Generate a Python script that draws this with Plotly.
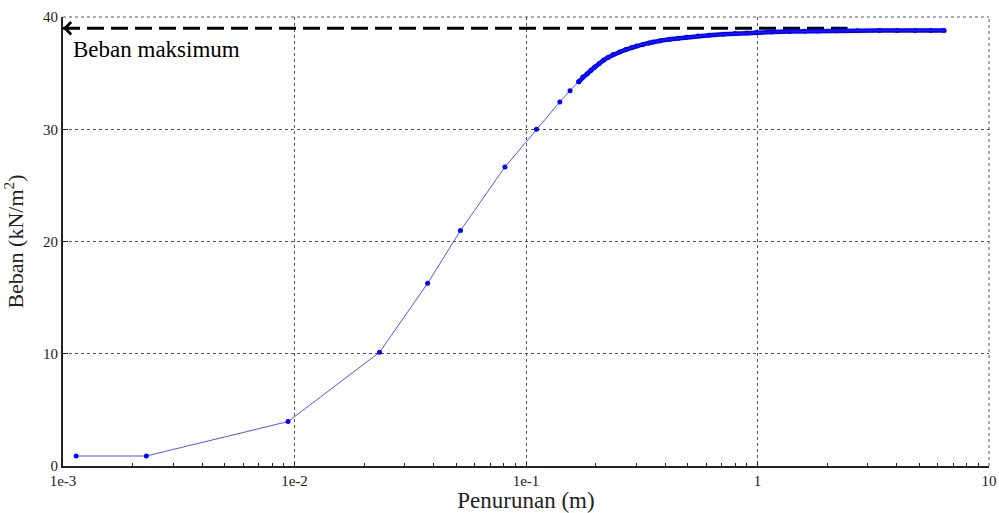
import numpy as np
import plotly.graph_objects as go

# Sparse measured points (settlement m, load kN/m2)
x_sparse = [0.00114, 0.00229, 0.00938, 0.0233, 0.0376, 0.0521, 0.0811, 0.111, 0.140, 0.155, 0.169]
y_sparse = [0.89, 0.89, 3.96, 10.13, 16.28, 20.97, 26.64, 30.0, 32.43, 33.44, 34.24]

# Dense part of the curve
x_dense = [0.169, 0.176, 0.184, 0.191, 0.198, 0.207, 0.216, 0.226, 0.238, 0.254, 0.270, 0.286,
           0.300, 0.320, 0.340, 0.354, 0.380, 0.418, 0.455, 0.493, 0.553, 0.62, 0.71, 0.80,
           0.90, 0.989, 1.15, 1.38, 1.60, 1.82, 2.2, 2.7, 3.37, 4.0, 4.8, 5.6, 6.4]
y_dense = [34.24, 34.65, 34.95, 35.25, 35.55, 35.85, 36.14, 36.40, 36.65, 36.88, 37.10, 37.28,
           37.42, 37.56, 37.68, 37.77, 37.88, 38.01, 38.10, 38.19, 38.31, 38.38, 38.46, 38.53,
           38.58, 38.61, 38.66, 38.70, 38.73, 38.75, 38.77, 38.78, 38.79, 38.79, 38.80, 38.80, 38.80]

max_load = 39.0
max_line_x = [0.001, 2.45]
x_tickvals = [0.001, 0.01, 0.1, 1, 10]
x_ticktext = ["1e-3", "1e-2", "1e-1", "1", "10"]
y_tickvals = [0, 10, 20, 30, 40]
minor_vals = [m * 10.0 ** k for k in range(-3, 1) for m in range(2, 10)]

FONT = "Liberation Serif, Times New Roman, serif"
BLUE = "#0000ff"
GRID = "#555"

fig = go.Figure()
# max load dashed line
fig.add_trace(go.Scatter(x=max_line_x, y=[max_load, max_load], mode="lines",
                         line=dict(color="black", width=3, dash="17px,7px"),
                         hoverinfo="skip", showlegend=False))
# thick band for dense part
fig.add_trace(go.Scatter(x=x_dense, y=y_dense, mode="lines+markers",
                         line=dict(color=BLUE, width=4.5),
                         marker=dict(color=BLUE, size=5), showlegend=False))
# full thin curve
fig.add_trace(go.Scatter(x=x_sparse + x_dense[1:], y=y_sparse + y_dense[1:], mode="lines",
                         line=dict(color="rgba(40,40,255,0.8)", width=1), showlegend=False))
fig.add_trace(go.Scatter(x=x_sparse, y=y_sparse, mode="markers",
                         marker=dict(color=BLUE, size=5), showlegend=False))

# arrowhead at left end of max line
fig.add_annotation(x=np.log10(max_line_x[0]), y=max_load, ax=np.log10(max_line_x[0]) + 0.06, ay=max_load,
                   xref="x", yref="y", axref="x", ayref="y", text=" ", showarrow=True,
                   arrowhead=4, arrowsize=1.1, arrowwidth=2.2, arrowcolor="black", standoff=0)
fig.add_annotation(x=0.0085, y=max_load - 1.9, xref="paper", yref="y", text="Beban maksimum",
                   showarrow=False, xanchor="left", yanchor="middle",
                   font=dict(family=FONT, size=23, color="black"))

# dotted top and right frame lines
fig.add_shape(type="line", xref="paper", yref="paper", x0=0, x1=1, y0=1, y1=1,
              line=dict(color=GRID, width=1, dash="dot"), layer="below")
fig.add_shape(type="line", xref="paper", yref="paper", x0=1, x1=1, y0=0, y1=1,
              line=dict(color=GRID, width=1, dash="dot"), layer="below")

fig.update_layout(
    width=999, height=513,
    margin=dict(l=63, r=10, t=17, b=47),
    paper_bgcolor="white", plot_bgcolor="white",
    font=dict(family=FONT, color="#222"),
    showlegend=False,
)
fig.update_xaxes(type="log", range=[-3, 1], tickmode="array", tickvals=x_tickvals, ticktext=x_ticktext,
                 showgrid=True, gridcolor=GRID, griddash="dot", gridwidth=1,
                 showline=True, linecolor="#222", linewidth=2, ticks="inside", ticklen=4, tickcolor="#222",
                 minor=dict(tickmode="array", tickvals=minor_vals, ticks="inside", ticklen=3,
                            tickcolor="#222", showgrid=False),
                 tickfont=dict(family=FONT, size=15, color="#222"),
                 title=dict(text="Penurunan (m)", font=dict(family=FONT, size=23, color="#222")),
                 automargin=False, zeroline=False)
fig.update_yaxes(range=[0, 40], tickmode="array", tickvals=y_tickvals,
                 showgrid=True, gridcolor=GRID, griddash="dot", gridwidth=1,
                 showline=True, linecolor="#222", linewidth=2, ticks="inside", ticklen=5, tickcolor="#222",
                 tickfont=dict(family=FONT, size=15, color="#222"),
                 title=dict(text="Beban (kN/m<sup>2</sup>)", font=dict(family=FONT, size=22, color="#222")),
                 automargin=False, zeroline=False)

fig.write_html("out.html")
